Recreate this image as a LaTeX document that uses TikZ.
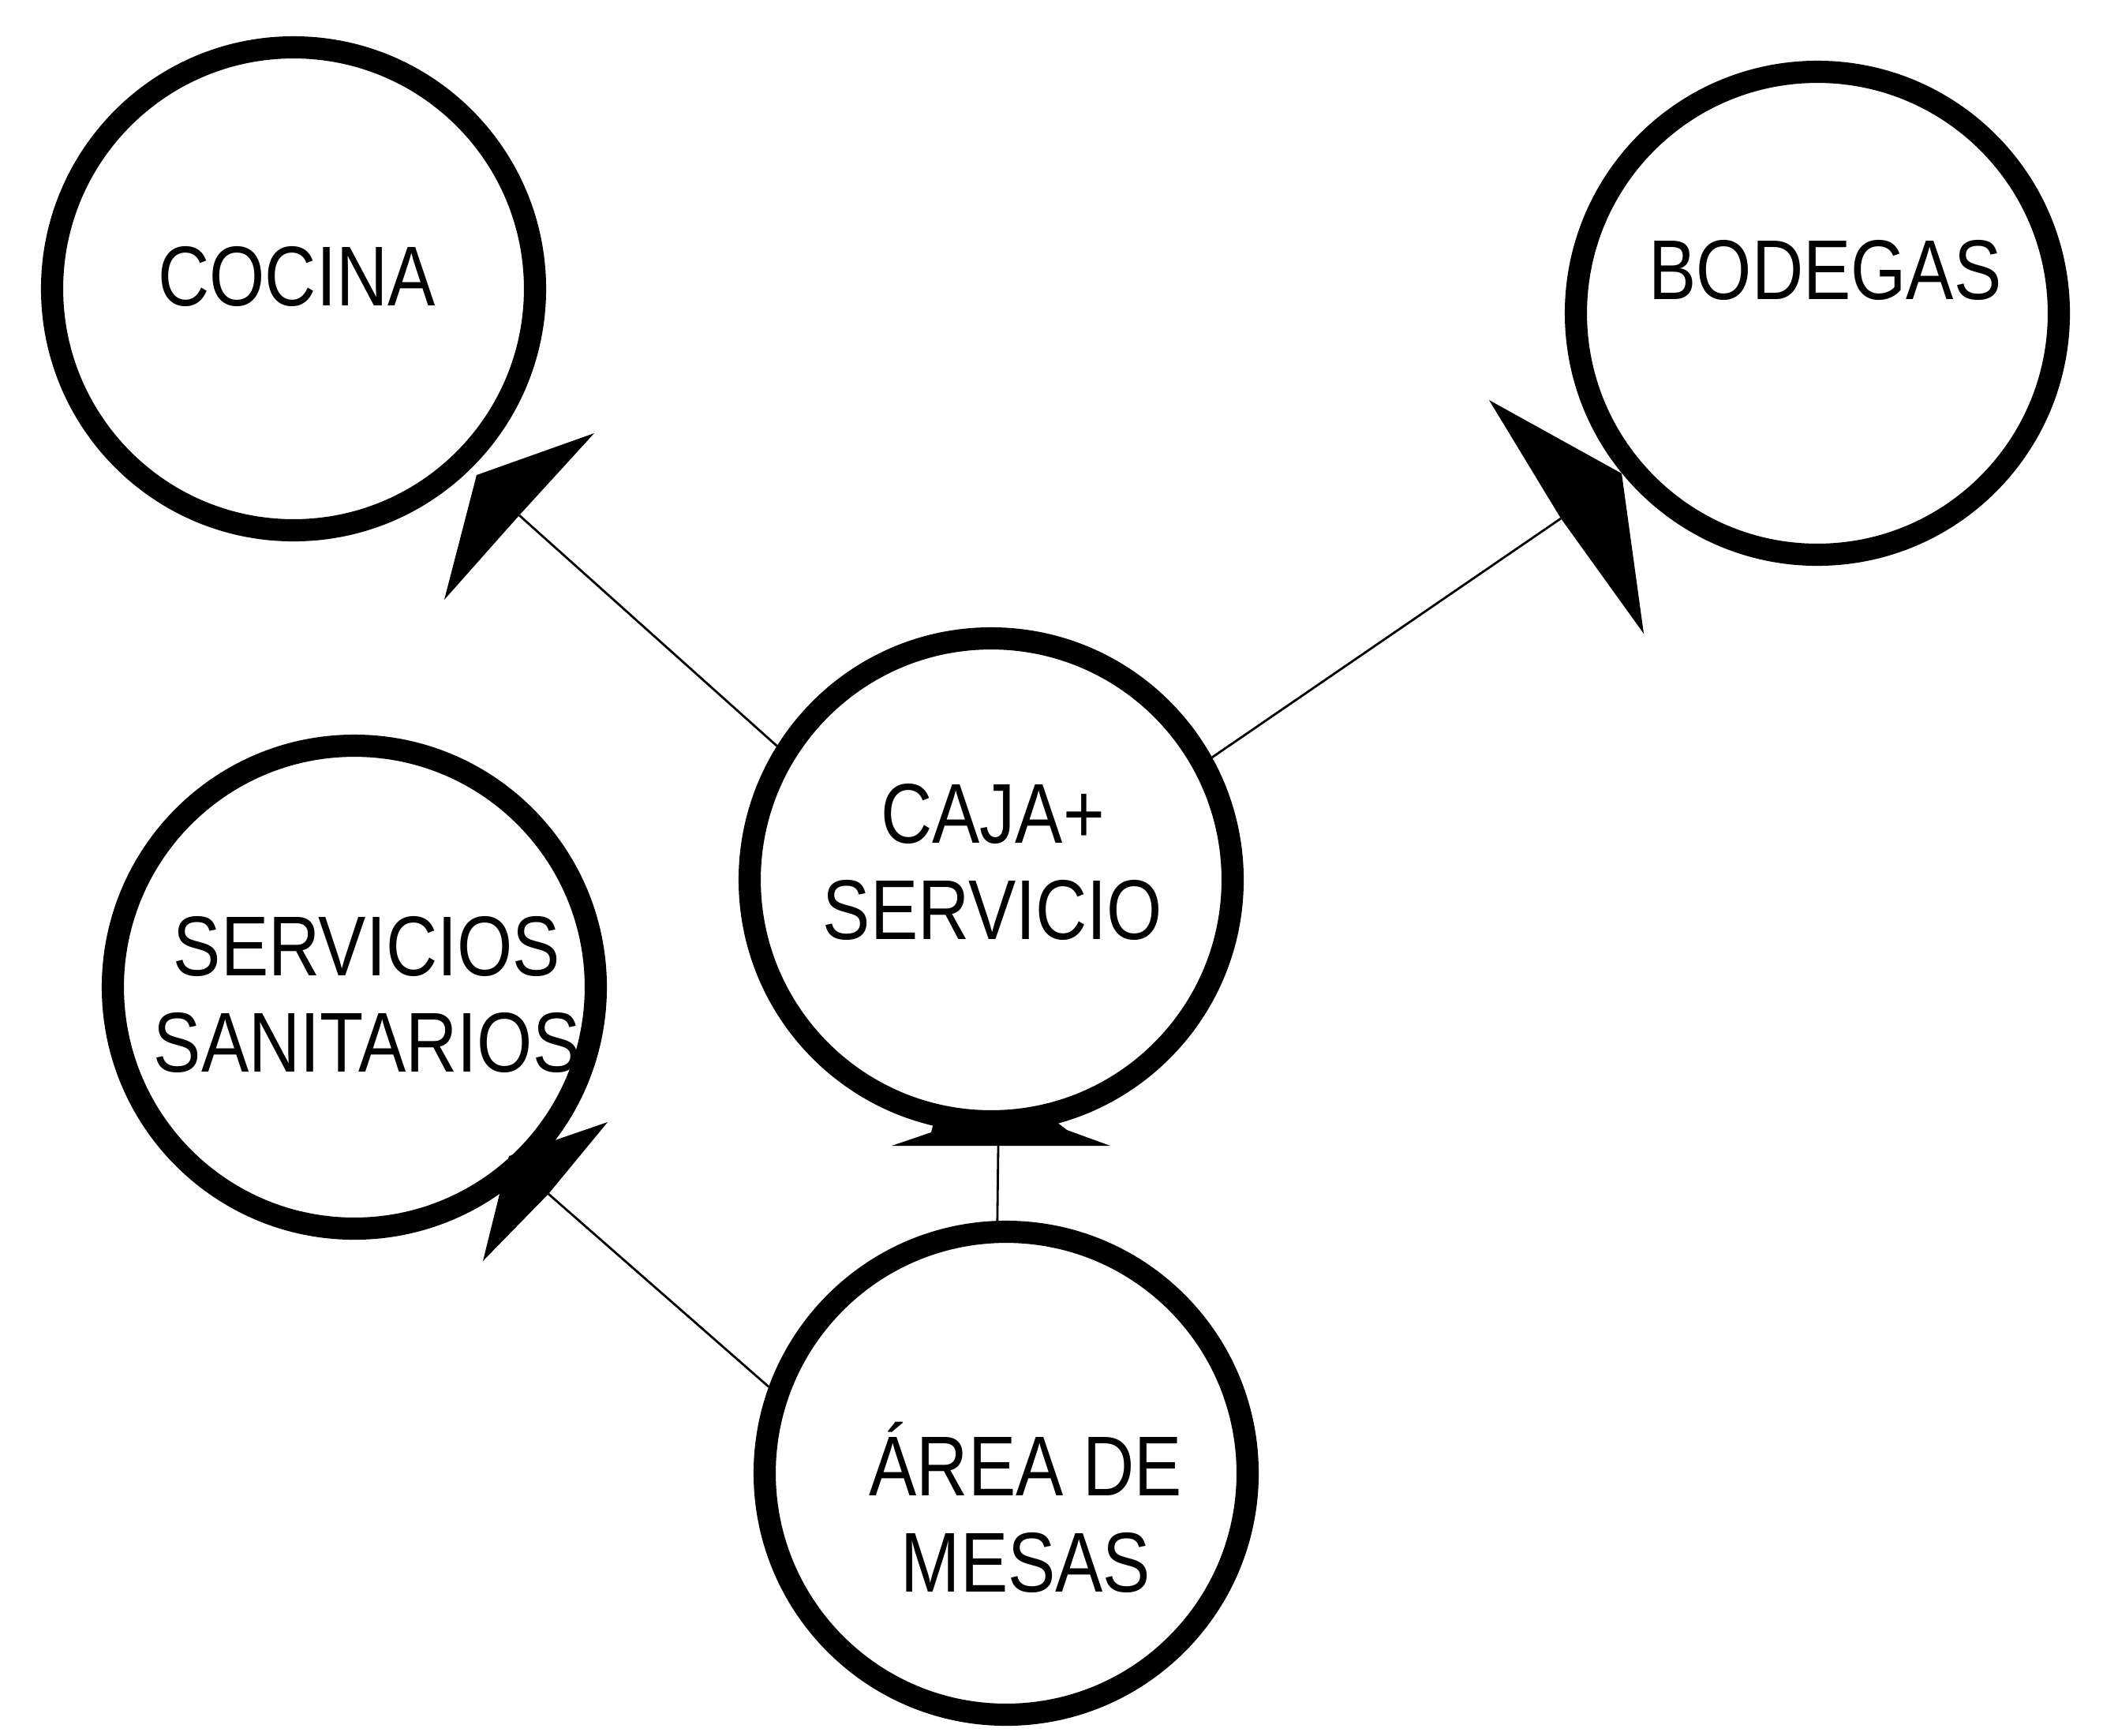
\documentclass[tikz,border=0pt]{standalone}
\usepackage{fontspec}
\newfontfamily\tagfont{Liberation Sans}[FakeStretch=0.84]
\usetikzlibrary{calc}

\begin{document}
\begin{tikzpicture}[
  room/.style={circle, draw=black, line width=8pt,
    minimum size=6.12cm, inner sep=0pt},
  tag/.style={font=\tagfont\fontsize{30.6pt}{34.7pt}\selectfont,
    align=center, inner sep=0pt},
  link/.style={black, line width=0.8pt},
  head/.style={fill=black},
]
  \path[use as bounding box, fill=white] (0,0) rectangle (26.65,-21.99);

  % === ROOMS ===
  \node[room] (cocina)  at (3.72, -3.66) {};
  \node[room] (bodegas) at (23.03, -3.97) {};
  \node[room] (caja)    at (12.56, -11.15) {};
  \node[room] (sanit)   at (4.49, -12.51) {};
  \node[room] (area)    at (12.75, -18.67) {};

  % Room names
  \node[tag] (cocina-t)  at (3.76, -3.50) {COCINA};
  \node[tag] (bodegas-t) at (23.13, -3.42) {BODEGAS};
  \node[tag] (caja-t)    at (12.58, -10.92) {CAJA+\\SERVICIO};
  \node[tag] (sanit-t)   at (4.65, -12.60) {SERVICIOS\\SANITARIOS};
  \node[tag] (area-t)    at (13.00, -19.10) {ÁREA DE\\MESAS};

  % === ARROW ENDS ===
  \coordinate (hc) at (6.58, -6.53);   % towards cocina
  \coordinate (hb) at (19.78, -6.57);  % towards bodegas
  \coordinate (hs) at (6.95, -15.13);  % towards sanitarios
  \coordinate (hk) at (12.65, -14.52); % towards caja

  % Connectors
  \draw[link] (caja.148) -- (hc);
  \draw[link] (caja.29) -- (hb);
  \draw[link] (area.160) -- (hs);
  \draw[link] (area.92) -- (hk);

  % Arrowheads
  \fill[head] (5.63, -7.60) -- (6.04, -6.02) -- (7.53, -5.49) -- (hc) -- cycle;
  \fill[head] (18.87, -5.07) -- (20.55, -6.00) -- (20.83, -8.03) -- (hb) -- cycle;
  \fill[head] (6.12, -15.98) -- (6.45, -14.65) -- (7.70, -14.22) -- (hs) -- cycle;
  \fill[head] (11.30, -14.52) -- (11.80, -14.35) -- (11.85, -14.15)
    -- (13.30, -14.15) -- (13.52, -14.32) -- (14.07, -14.52) -- cycle;
\end{tikzpicture}
\end{document}
